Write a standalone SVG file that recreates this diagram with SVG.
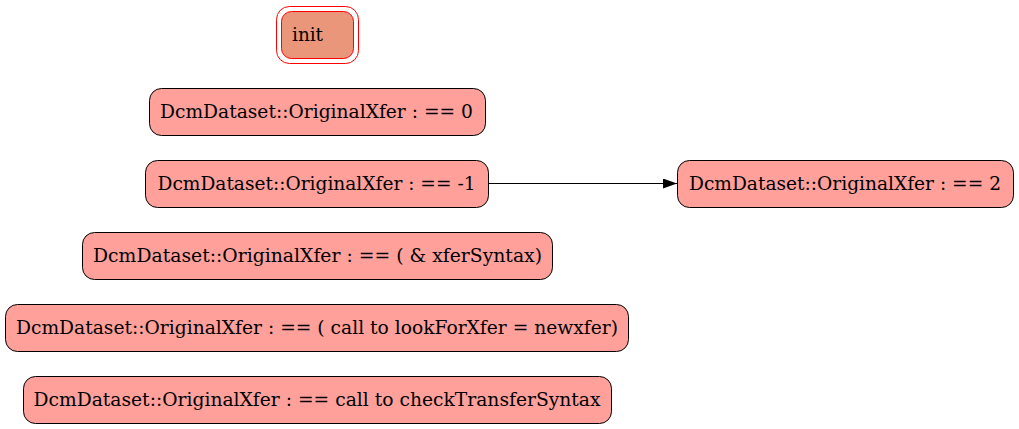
<svg xmlns="http://www.w3.org/2000/svg" width="1019" height="429" viewBox="0 0 1019 429">
<style>
.n{fill:#ffa09b;stroke:#000;stroke-width:1}
.t{font-family:"DejaVu Serif",serif;font-size:18px;fill:#000;text-anchor:middle}
</style>
<defs>
<marker id="ah" markerWidth="14" markerHeight="10" refX="14" refY="5" orient="auto" markerUnits="userSpaceOnUse">
<path d="M0,0 L14,5 L0,10 Z" fill="#000"/>
</marker>
</defs>
<rect width="1019" height="429" fill="#fff"/>
<g id="edges">
<path d="M488,183.5 L677,183.5" stroke="#000" stroke-width="1" fill="none" marker-end="url(#ah)"/>
</g>
<g id="init">
<rect x="276.5" y="6.5" width="82" height="57" rx="13" fill="none" stroke="#f00"/>
<rect x="281.5" y="11.5" width="72" height="47" rx="10" fill="#e9967a" stroke="#f00"/>
<text class="t" x="307.5" y="41" textLength="31" lengthAdjust="spacingAndGlyphs">init</text>
</g>
<g id="n0">
<rect class="n" x="149.5" y="88.5" width="336" height="47" rx="12"/>
<text class="t" x="316.5" y="117.5" textLength="313" lengthAdjust="spacingAndGlyphs">DcmDataset::OriginalXfer : == 0</text>
</g>
<g id="n1">
<rect class="n" x="145.5" y="160.5" width="343" height="47" rx="12"/>
<text class="t" x="316.5" y="189.5" textLength="318" lengthAdjust="spacingAndGlyphs">DcmDataset::OriginalXfer : == -1</text>
</g>
<g id="n2">
<rect class="n" x="677.5" y="160.5" width="336" height="47" rx="12"/>
<text class="t" x="845" y="189.5" textLength="312" lengthAdjust="spacingAndGlyphs">DcmDataset::OriginalXfer : == 2</text>
</g>
<g id="n3">
<rect class="n" x="82.5" y="232.5" width="470" height="47" rx="12"/>
<text class="t" x="317.5" y="261.5" textLength="449" lengthAdjust="spacingAndGlyphs">DcmDataset::OriginalXfer : == ( &amp; xferSyntax)</text>
</g>
<g id="n4">
<rect class="n" x="5.5" y="304.5" width="623" height="47" rx="12"/>
<text class="t" x="317" y="333.5" textLength="602" lengthAdjust="spacingAndGlyphs">DcmDataset::OriginalXfer : == ( call to lookForXfer = newxfer)</text>
</g>
<g id="n5">
<rect class="n" x="23.5" y="376.5" width="588" height="47" rx="12"/>
<text class="t" x="317" y="405.5" textLength="567" lengthAdjust="spacingAndGlyphs">DcmDataset::OriginalXfer : == call to checkTransferSyntax</text>
</g>
</svg>
